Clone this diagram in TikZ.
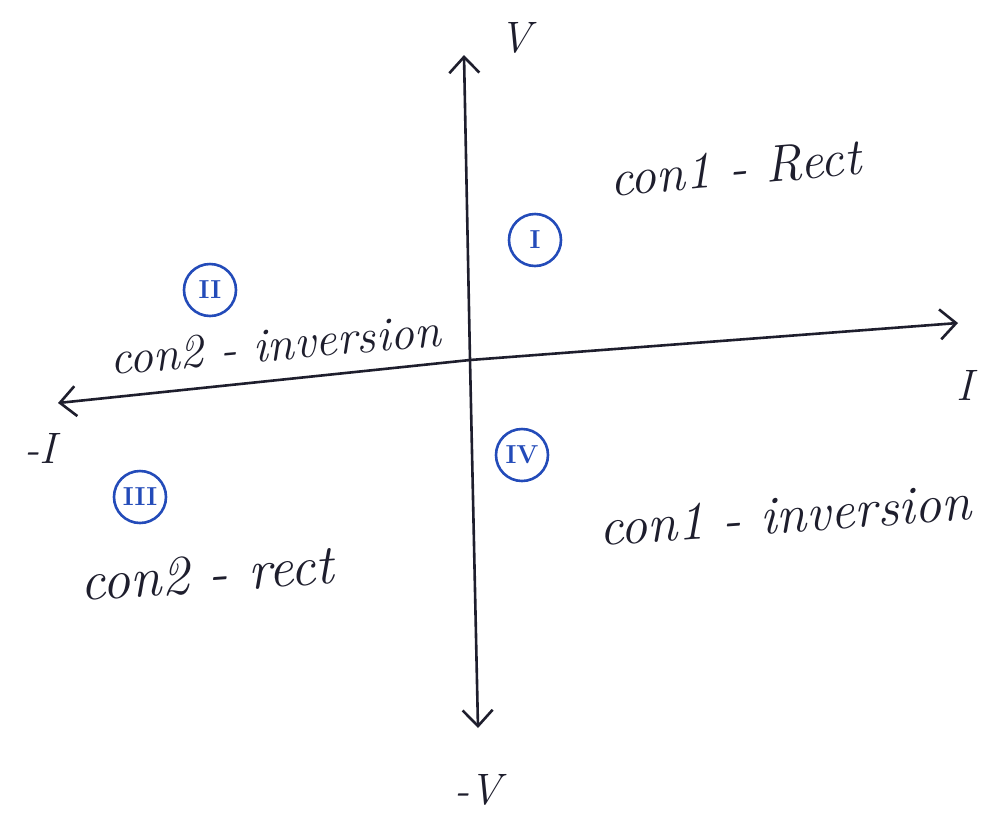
\documentclass[tikz,border=0pt]{standalone}
\usepackage{fontspec}
\setmainfont{Latin Modern Roman}
\usetikzlibrary{arrows.meta}
\definecolor{ink}{RGB}{30,30,45}
\definecolor{pen}{RGB}{35,75,185}
\tikzset{
  axis/.style={draw=ink, line width=2.6pt, -{Straight Barb[length=16pt,width=30pt,line width=2.6pt]}},
  lbl/.style={text=ink, font=\itshape\fontsize{44}{50}\selectfont, inner sep=0pt},
  quad/.style={draw=pen, text=pen, circle, line width=2.6pt, minimum size=52pt, inner sep=0pt, font=\fontsize{26}{30}\selectfont\bfseries},
}
\begin{document}
\begin{tikzpicture}[x=1pt,y=-1pt]
\useasboundingbox (0,0) rectangle (985,820);
\fill[white] (0,0) rectangle (985,820);
% axes
\coordinate (o) at (470,360);
\coordinate (vtop) at (464,55);
\coordinate (vbot) at (478,728);
\coordinate (ileft) at (58,403);
\coordinate (iright) at (958,323);
\draw[axis] (o) -- (vtop);
\draw[axis] (o) -- (vbot);
\draw[axis] (o) -- (ileft);
\draw[axis] (o) -- (iright);
% axis labels
\node[lbl] (V) at (515,38) {V};
\node[lbl] (I) at (965,385) {I};
\node[lbl] (mI) at (40,448) {-I};
\node[lbl] (mV) at (478,790) {-V};
% quadrant markers
\node[quad] (q1) at (535,240) {I};
\node[quad] (q2) at (210,290) {II};
\node[quad] (q3) at (140,497) {III};
\node[quad] (q4) at (522,455) {IV};
% texts
\node[lbl, font=\itshape\fontsize{52}{60}\selectfont, rotate=5] (t1) at (735,168) {con1 - Rect};
\node[lbl, font=\itshape\fontsize{48}{56}\selectfont, rotate=5] (t2) at (275,345) {con2 - inversion};
\node[lbl, font=\itshape\fontsize{56}{64}\selectfont, rotate=4] (t3) at (207,574) {con2 - rect};
\node[lbl, font=\itshape\fontsize{54}{62}\selectfont, rotate=4] (t4) at (785,515) {con1 - inversion};
\end{tikzpicture}
\end{document}
